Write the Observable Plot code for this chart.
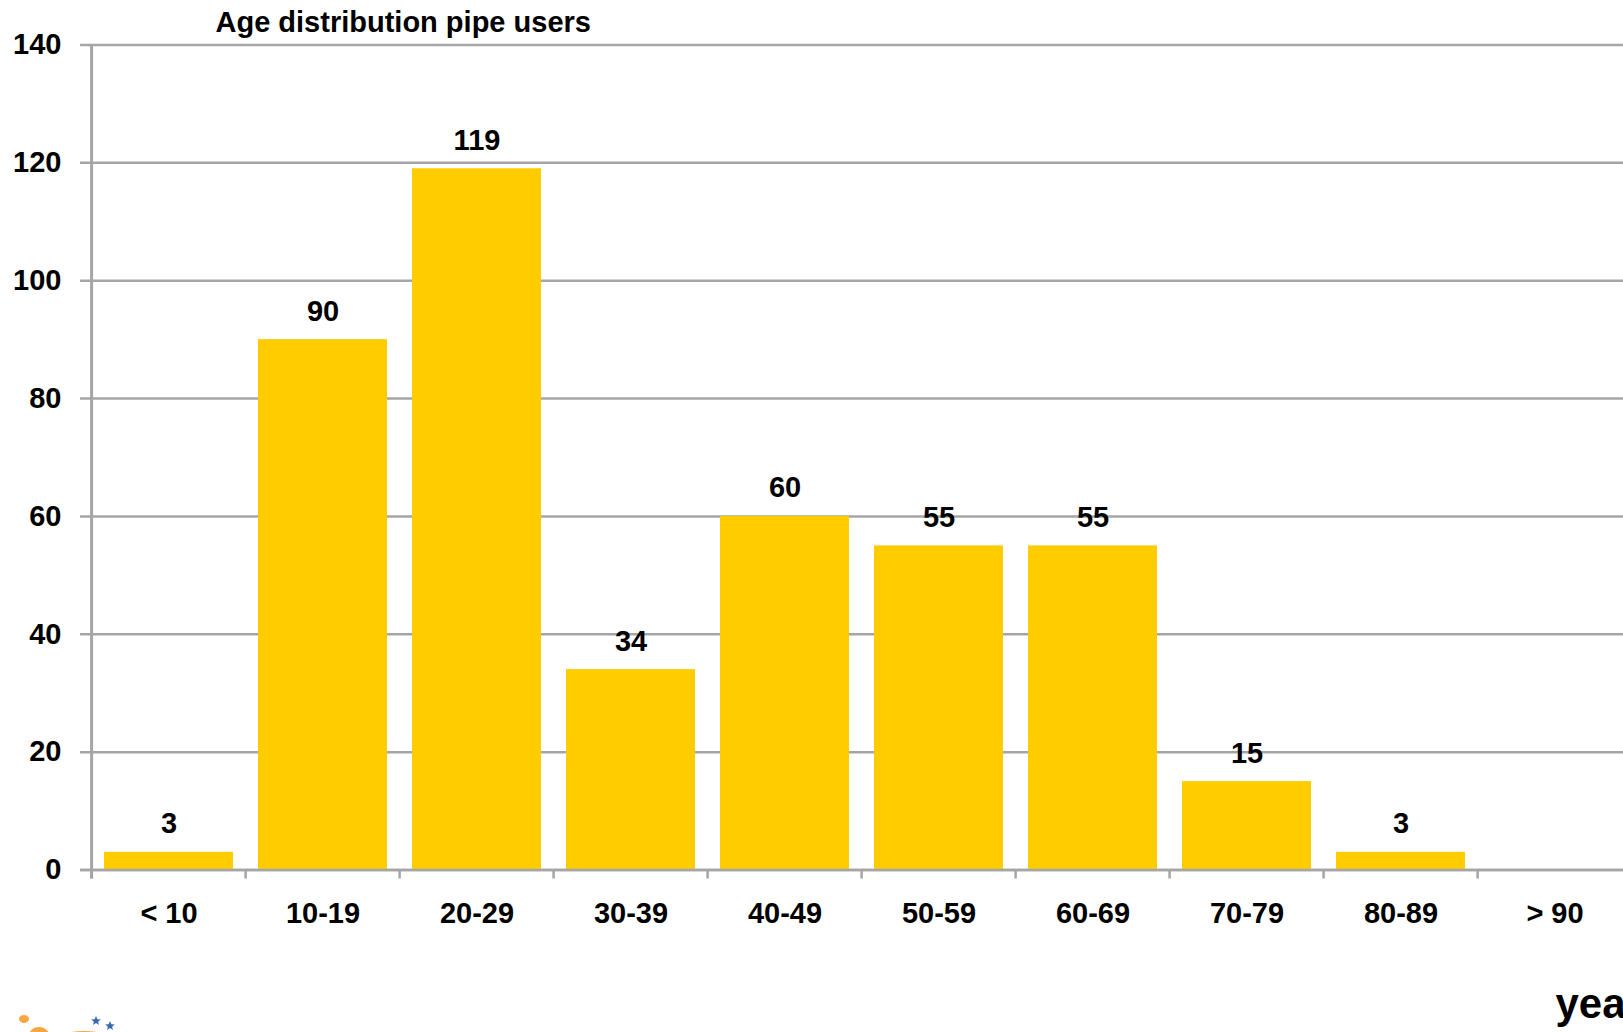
<!DOCTYPE html>
<html>
<head>
<meta charset="utf-8">
<script src="https://cdn.jsdelivr.net/npm/d3@7"></script>
<script src="https://cdn.jsdelivr.net/npm/@observablehq/plot@0.6"></script>
<style>
html, body { margin: 0; padding: 0; background: #fff; overflow: hidden; }
#wrap { position: relative; width: 1623px; height: 1032px; overflow: hidden; }
#wrap svg { display: block; }
#logo { position: absolute; left: 0; top: 0; pointer-events: none; }
</style>
</head>
<body>
<div id="wrap"></div>
<script>
// ---- data ----
const categories = ["< 10", "10-19", "20-29", "30-39", "40-49", "50-59", "60-69", "70-79", "80-89", "> 90"];
const counts = [3, 90, 119, 34, 60, 55, 55, 15, 3, null];
const yTicks = [0, 20, 40, 60, 80, 100, 120, 140];
const title = "Age distribution pipe users";
const unitLabel = "years";

// ---- build table ----
const rows = categories.map((c, i) => ({category: c, count: counts[i]}));
const bars = rows.filter(d => d.count != null);

const W = 1623, H = 1032;
const xRange = [88, 1636];
const step = (xRange[1] - xRange[0]) / categories.length;
const grey = "#a5a5a5";
const font = "'Liberation Sans', Arial, Helvetica, sans-serif";
const fs = 29;

const chart = Plot.plot({
  width: W,
  height: H,
  marginLeft: 88,
  marginRight: 0,
  marginTop: 44.5,
  marginBottom: 162.5,
  style: {fontFamily: font, fontWeight: "bold", fontSize: fs + "px", color: "#000", background: "#fff", overflow: "hidden"},
  x: {domain: categories, range: xRange, paddingInner: 0.16, paddingOuter: 0.08},
  y: {domain: [0, 140]},
  marks: [
    // gridlines with small left ticks
    Plot.ruleY(yTicks, {stroke: grey, strokeWidth: 2.5, insetLeft: -8}),
    // bars
    Plot.barY(bars, {x: "category", y: "count", fill: "#ffcc00"}),
    // baseline on top of bars
    Plot.ruleY([0], {stroke: grey, strokeWidth: 2.5, insetLeft: -8}),
    // y axis line
    Plot.ruleX([categories[0]], {dx: -step / 2, stroke: grey, strokeWidth: 3, insetBottom: -9}),
    // x tick marks at band boundaries
    Plot.ruleX(categories, {x: d => d, y1: 0, y2: 0, dx: -step / 2, insetBottom: -9, stroke: grey, strokeWidth: 2.5}),
    // axes labels
    Plot.axisY(yTicks, {tickSize: 0, tickPadding: 27, label: null, fontSize: fs, fontWeight: "bold"}),
    Plot.axisX({tickSize: 0, tickPadding: 32, label: null, fontSize: fs, fontWeight: "bold"}),
    // value labels
    Plot.text(bars, {x: "category", y: "count", text: d => String(d.count), lineAnchor: "bottom", dy: -19, fontSize: fs, fontWeight: "bold", fill: "#000"}),
    // title
    Plot.text([title], {frameAnchor: "top-left", textAnchor: "start", lineAnchor: "bottom", dx: 127, dy: -13.5, fontSize: fs, fontWeight: "bold", fill: "#000"}),
    // unit label (cut by the right edge, as in the reference)
    Plot.text([unitLabel], {frameAnchor: "bottom-right", textAnchor: "start", lineAnchor: "bottom", dx: -68, dy: 147.5, fontSize: 42, fontWeight: "bold", fill: "#000"})
  ]
});

const wrap = document.getElementById("wrap");
wrap.appendChild(chart);

// small decorative logo fragment at the bottom-left corner (not data)
const ns = "http://www.w3.org/2000/svg";
const logo = document.createElementNS(ns, "svg");
logo.setAttribute("id", "logo");
logo.setAttribute("width", W);
logo.setAttribute("height", H);
logo.innerHTML = `
  <ellipse cx="24" cy="1019" rx="5" ry="4" fill="#f8a640"/>
  <circle cx="39" cy="1038" r="11" fill="#f8a640"/>
  <ellipse cx="84" cy="1043" rx="34" ry="12" fill="#f8a640"/>
  <polygon points="96,1016 97.3,1019.3 100.8,1019.5 98.1,1021.7 99,1025 96,1023.1 93,1025 93.9,1021.7 91.2,1019.5 94.7,1019.3" fill="#3a68b0"/>
  <polygon points="110,1021 111.3,1024.3 114.8,1024.5 112.1,1026.7 113,1030 110,1028.1 107,1030 107.9,1026.7 105.2,1024.5 108.7,1024.3" fill="#3a68b0"/>
`;
wrap.appendChild(logo);
</script>
</body>
</html>
